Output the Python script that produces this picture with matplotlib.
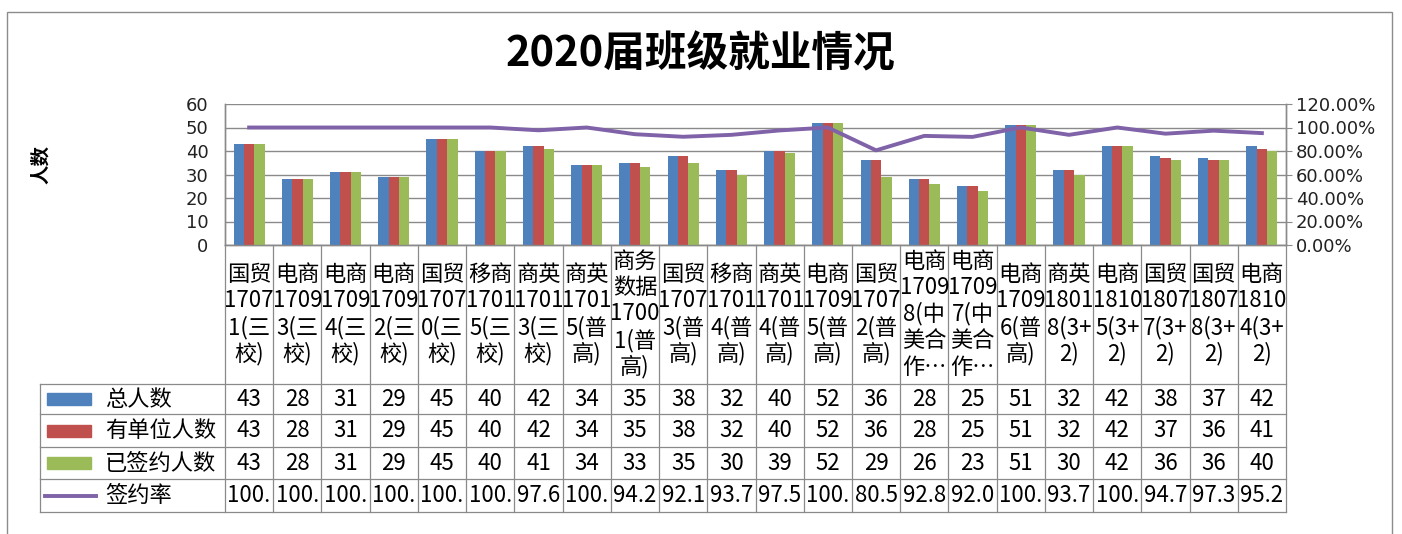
import numpy as np
import matplotlib; matplotlib.use("Agg"); import matplotlib.pyplot as plt
from matplotlib.lines import Line2D
from matplotlib.patches import Rectangle
from matplotlib.transforms import blended_transform_factory as blend

plt.rcParams['font.family'] = ['Noto Sans CJK SC', 'DejaVu Sans']

# 数据
cats = ["国贸\n1707\n1(三\n校)", "电商\n1709\n3(三\n校)", "电商\n1709\n4(三\n校)", "电商\n1709\n2(三\n校)",
        "国贸\n1707\n0(三\n校)", "移商\n1701\n5(三\n校)", "商英\n1701\n3(三\n校)", "商英\n1701\n5(普\n高)",
        "商务\n数据\n1700\n1(普\n高)", "国贸\n1707\n3(普\n高)", "移商\n1701\n4(普\n高)", "商英\n1701\n4(普\n高)",
        "电商\n1709\n5(普\n高)", "国贸\n1707\n2(普\n高)", "电商\n1709\n8(中\n美合\n作…", "电商\n1709\n7(中\n美合\n作…",
        "电商\n1709\n6(普\n高)", "商英\n1801\n8(3+\n2)", "电商\n1810\n5(3+\n2)", "国贸\n1807\n7(3+\n2)",
        "国贸\n1807\n8(3+\n2)", "电商\n1810\n4(3+\n2)"]
total  = [43, 28, 31, 29, 45, 40, 42, 34, 35, 38, 32, 40, 52, 36, 28, 25, 51, 32, 42, 38, 37, 42]
unit   = [43, 28, 31, 29, 45, 40, 42, 34, 35, 38, 32, 40, 52, 36, 28, 25, 51, 32, 42, 37, 36, 41]
signed = [43, 28, 31, 29, 45, 40, 41, 34, 33, 35, 30, 39, 52, 29, 26, 23, 51, 30, 42, 36, 36, 40]
rate   = [100, 100, 100, 100, 100, 100, 97.62, 100, 94.29, 92.11, 93.75, 97.5,
          100, 80.56, 92.86, 92.0, 100, 93.75, 100, 94.74, 97.30, 95.24]
series = ["总人数", "有单位人数", "已签约人数", "签约率"]

C_BLUE, C_RED, C_GREEN, C_PURP = "#4F81BD", "#C0504D", "#9BBB59", "#7F62A8"
GRID = "#8a8a8a"

W, H = 1402, 534
fig = plt.figure(figsize=(W/100, H/100), dpi=100)
fx = lambda px: px/W
fy = lambda py: 1 - py/H

L, R, T, B = 225, 1286, 104, 245
ax = fig.add_axes([fx(L), fy(B), fx(R)-fx(L), fy(T)-fy(B)])
n = len(cats); x = np.arange(n); bw = 0.215
ax.bar(x-bw, total, bw, color=C_BLUE, zorder=3)
ax.bar(x, unit, bw, color=C_RED, zorder=3)
ax.bar(x+bw, signed, bw, color=C_GREEN, zorder=3)
ax.set_xlim(-0.5, n-0.5); ax.set_ylim(0, 60)
ax.set_yticks(range(0, 61, 10))
ax.yaxis.grid(True, color=GRID, lw=1.0, zorder=0)
ax.set_xticks([])
ax.tick_params(axis='y', length=0, pad=12, labelsize=13, labelcolor="#222")
for lab in ax.get_yticklabels(): lab.set_family('DejaVu Sans')
for s in ax.spines.values(): s.set_color(GRID); s.set_linewidth(1.0)
ax.spines['top'].set_visible(False)

ax2 = ax.twinx()
ax2.plot(x, rate, color=C_PURP, lw=2.8, zorder=4, solid_joinstyle='round')
ax2.set_ylim(0, 120); ax2.set_yticks(range(0, 121, 20))
ax2.set_yticklabels([f"{v:.2f}%" for v in range(0, 121, 20)], family='DejaVu Sans')
ax2.tick_params(axis='y', length=4, color=GRID, pad=3, labelsize=13, labelcolor="#222")
for s in ax2.spines.values(): s.set_color(GRID); s.set_linewidth(1.0)
ax2.spines['top'].set_visible(False)

fig.text(fx(700), fy(54), "2020届班级就业情况", ha='center', va='center', fontsize=30, fontweight='bold')
fig.text(fx(42), fy(165), "人数", ha='center', va='center', rotation=90, fontsize=14, fontweight='bold')

# 外框
fig.add_artist(Rectangle((fx(7), fy(560)), fx(1392)-fx(7), fy(12)-fy(560), transform=fig.transFigure,
                         fill=False, ec="#8c8c8c", lw=1.0))

# 表格
tr = blend(ax.transData, fig.transFigure)
def fline(xs, ys, **kw):
    fig.add_artist(Line2D(xs, ys, transform=fig.transFigure, color=GRID, lw=0.9, **kw))
rows_y = [384, 414, 447, 479, 512]
for i in range(n+1):
    fig.add_artist(Line2D([i-0.5, i-0.5], [fy(B), fy(512)], transform=tr, color=GRID, lw=0.9))
for yy in rows_y:
    fline([fx(40), fx(R)], [fy(yy), fy(yy)])
fline([fx(40), fx(40)], [fy(384), fy(512)])

fs = 16
for i, c in enumerate(cats):
    lines = c.split("\n"); k = len(lines)
    for j, t in enumerate(lines):
        yy = 314 + (j - (k-1)/2)*26.5
        fig.text(i, fy(yy), t, transform=tr, ha='center', va='center', fontsize=fs)

vals = [total, unit, signed, [f"{v:.2f}"[:4] for v in rate]]
keys = [C_BLUE, C_RED, C_GREEN, C_PURP]
for r in range(4):
    yc = (rows_y[r] + rows_y[r+1]) / 2
    if r < 3:
        fig.add_artist(Rectangle((fx(47), fy(yc+6)), fx(91)-fx(47), fy(yc-6)-fy(yc+6),
                                 transform=fig.transFigure, color=keys[r]))
    else:
        fline([fx(45), fx(96)], [fy(yc), fy(yc)])
        fig.artists[-1].set_color(C_PURP); fig.artists[-1].set_linewidth(2.8)
    fig.text(fx(105), fy(yc), series[r], ha='left', va='center', fontsize=fs)
    for i, v in enumerate(vals[r]):
        fig.text(i, fy(yc), str(v), transform=tr, ha='center', va='center', fontsize=fs)

fig.savefig("out.png", dpi=100)
